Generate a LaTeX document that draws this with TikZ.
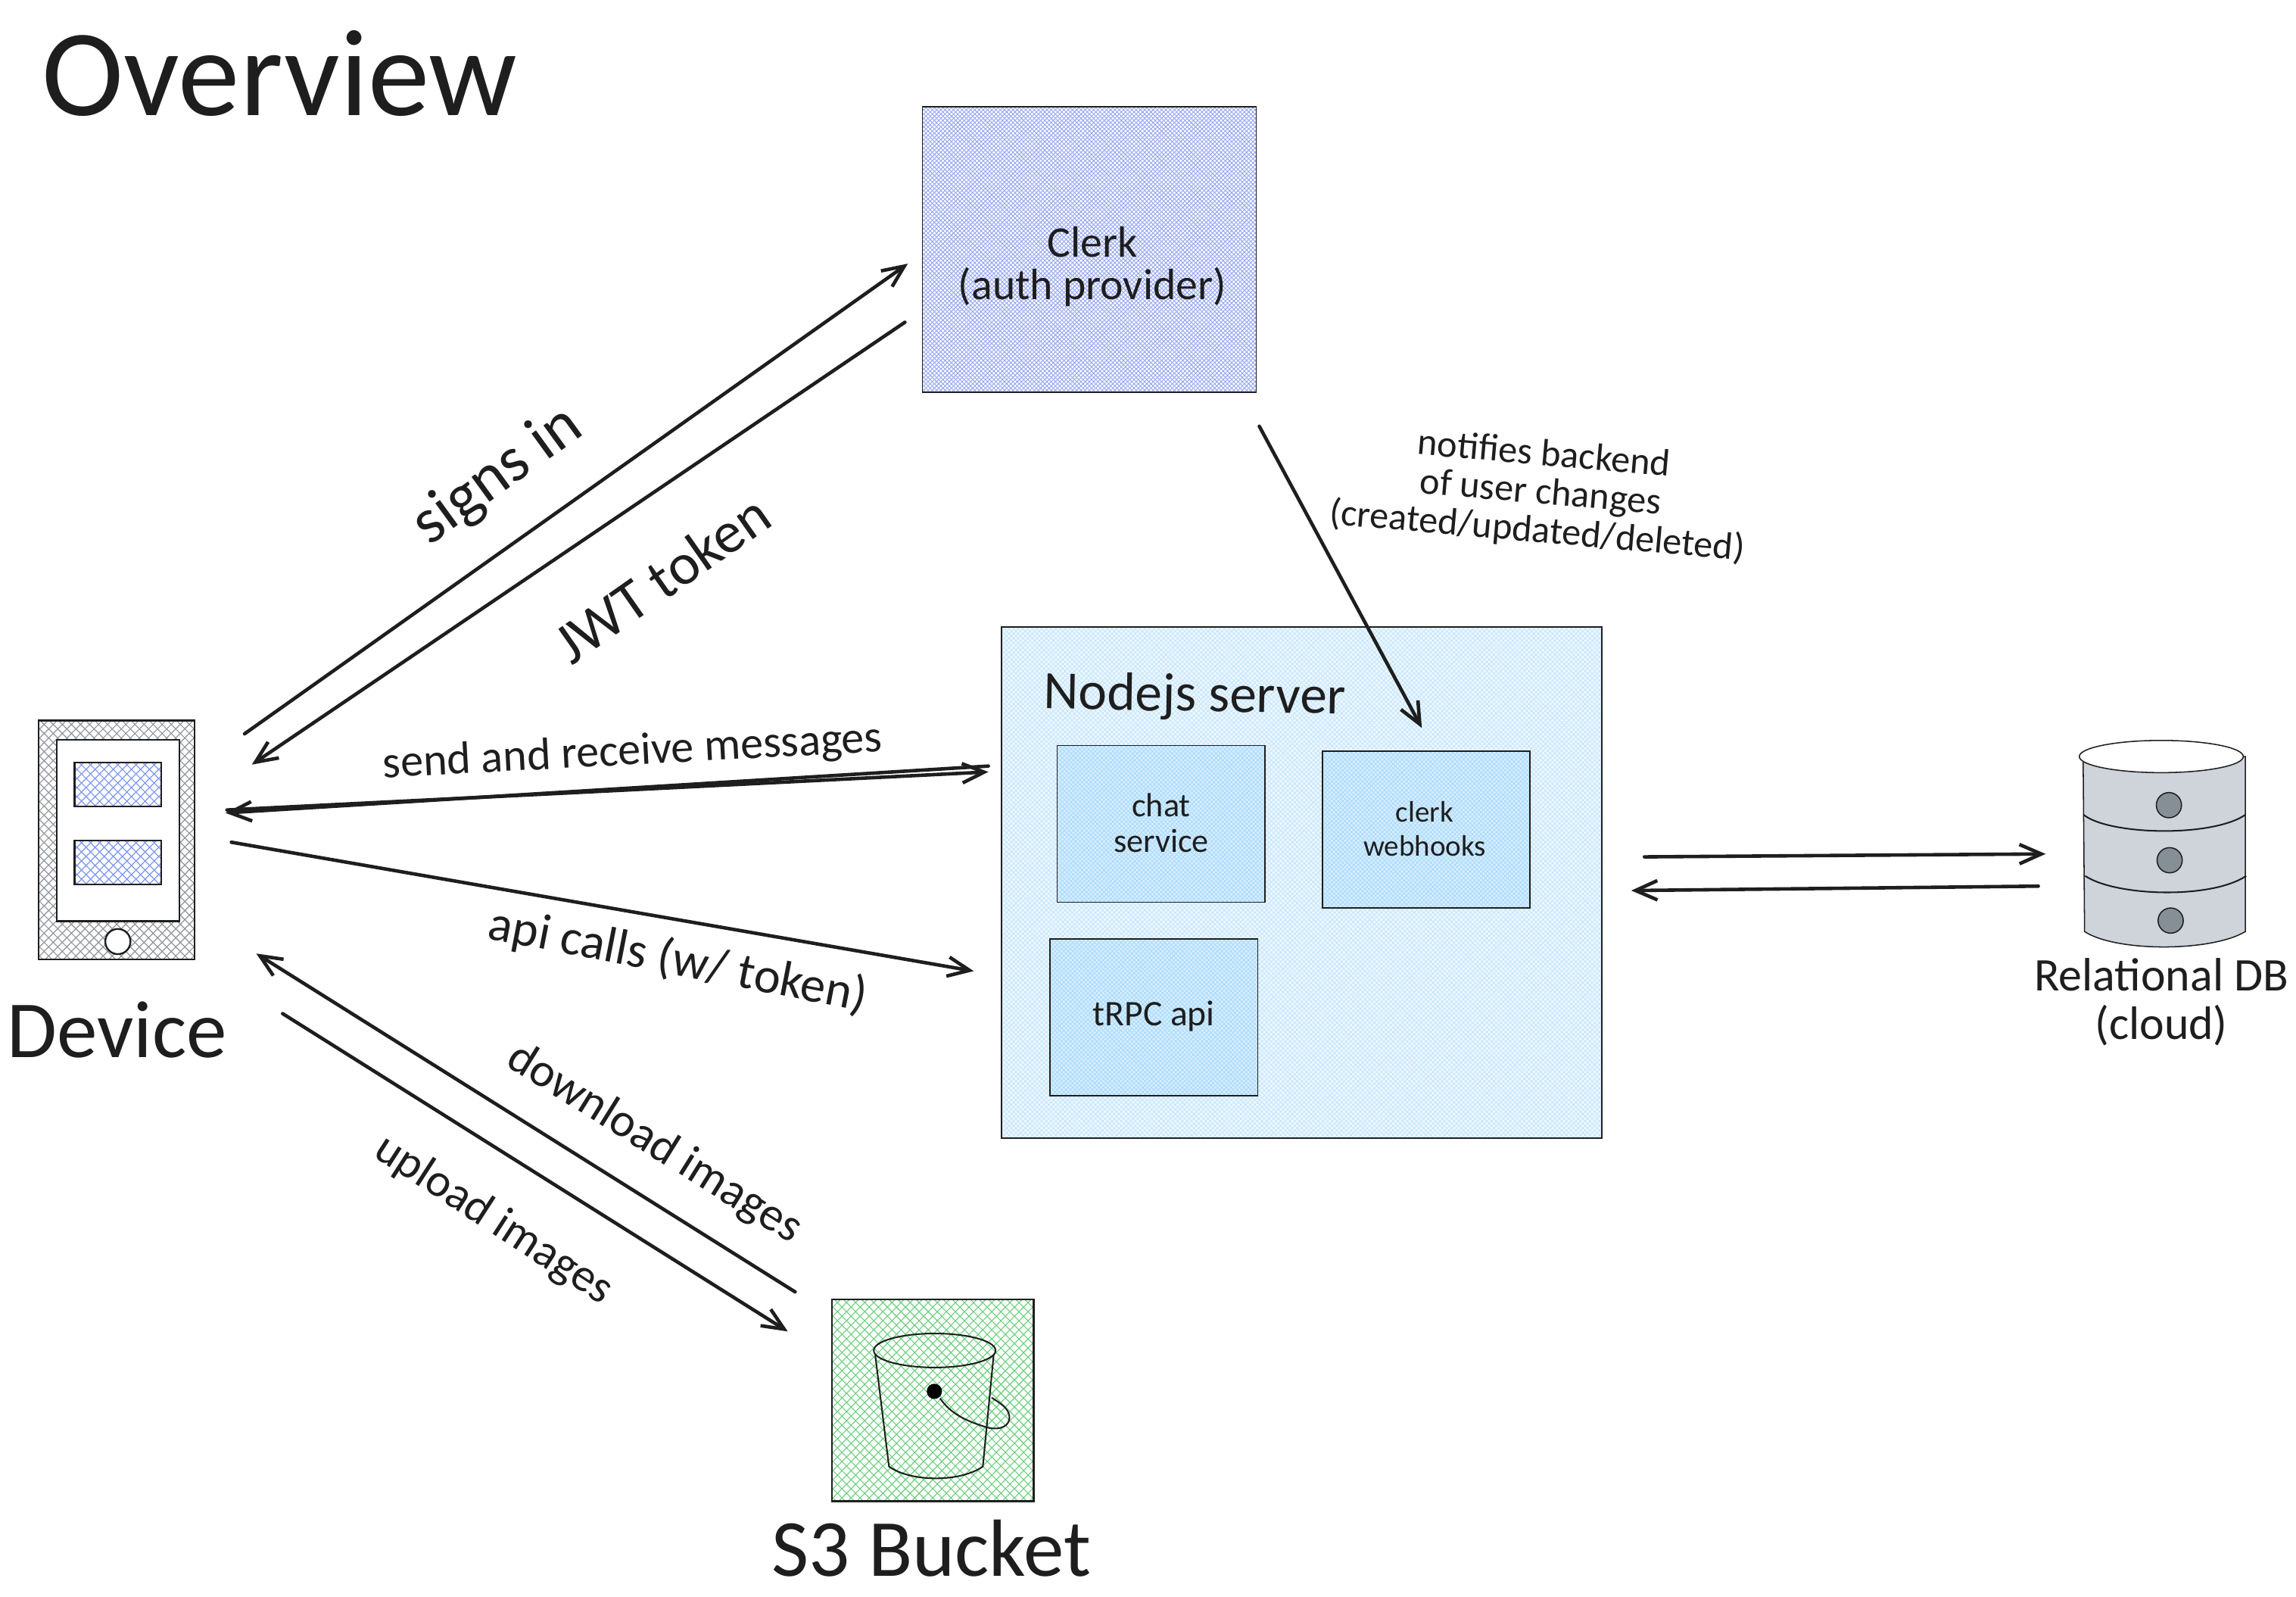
\documentclass[tikz,border=0pt]{standalone}
\usepackage{fontspec}
\setmainfont{Carlito}
\usetikzlibrary{arrows.meta,calc,shapes.geometric}
\definecolor{ink}{HTML}{1E1E1E}
\definecolor{devgray}{HTML}{8F969C}
\definecolor{devblue}{HTML}{7E97F2}
\definecolor{clerkblue}{HTML}{93A5F2}
\definecolor{srvline}{HTML}{A5D8FF}
\definecolor{srvfill}{HTML}{EDF7FF}
\definecolor{subfill}{HTML}{D6EEFF}
\definecolor{s3green}{HTML}{69CE7C}
\definecolor{dbfill}{HTML}{CED4DA}
\definecolor{dbdot}{HTML}{868E96}
\newcommand{\hatchbox}[9]{% x0,y0,x1,y1,color,spacing,lw,name,frame width
  \begin{scope}
    \clip (#1,#2) rectangle (#3,#4);
    \pgfmathsetmacro{\hspan}{(#3-#1)+(#4-#2)}
    \foreach \t in {0,#6,...,\hspan}{
      \draw[#5,line width=#7pt] ({#1+\t},#2) -- ++({-(#4-#2)},{#4-#2});
      \draw[#5,line width=#7pt] ({#3-\t},#2) -- ++({#4-#2},{#4-#2});
    }
  \end{scope}
  \node[boxframe,line width=#9pt,minimum width={(#3-#1)*0.56906pt},minimum height={(#4-#2)*0.56906pt},anchor=north west] (#8) at (#1,#2) {};
}
\newcommand{\fs}[2]{\fontsize{#1}{#2}\selectfont}
\tikzset{
  boxframe/.style={draw=ink,line width=0.5pt,inner sep=0pt,outer sep=0pt},
  link/.style={draw=ink,line width=1.35pt,line cap=round,-{Straight Barb[length=8.5pt,width=7.5pt,line width=1.35pt]}},
  lbl/.style={text=ink,inner sep=0pt,align=center},
  sketch/.style={draw=ink,line width=0.6pt},
}
\begin{document}
\begin{tikzpicture}[x=0.02cm,y=-0.02cm]
\useasboundingbox (0,0) rectangle (1568,1089.8);
\fill[white] (0,0) rectangle (1568,1089.8);

% Clerk
\hatchbox{630}{73}{858}{268}{clerkblue}{2.9}{0.27}{clerk}{0.5}
\node[lbl,font=\fs{17}{16.5}] (clerktext) at (746,182) {Clerk\\(auth provider)};

% Server
\fill[srvfill] (684,428) rectangle (1094,777);
\hatchbox{684}{428}{1094}{777}{srvline!70}{3.2}{0.22}{server}{0.5}
\fill[subfill] (722,509) rectangle (864,616);
\hatchbox{722}{509}{864}{616}{srvline}{3}{0.22}{chat}{0.5}
\fill[subfill] (903,513) rectangle (1045,620);
\hatchbox{903}{513}{1045}{620}{srvline}{3}{0.22}{webhooks}{0.5}
\fill[subfill] (717,641) rectangle (859,748);
\hatchbox{717}{641}{859}{748}{srvline}{3}{0.22}{trpc}{0.5}
\node[lbl,font=\fs{21}{23},rotate=-1] (servertext) at (816,476) {Nodejs server};
\node[lbl,font=\fs{13}{13.7}] (chattext) at (793,562) {chat\\service};
\node[lbl,font=\fs{11.5}{13.2}] (webhookstext) at (973,566) {clerk\\webhooks};
\node[lbl,font=\fs{14}{16}] (trpctext) at (788,694) {tRPC api};

% Device
\hatchbox{26.5}{492}{133}{655}{devgray}{6.2}{0.35}{device}{0.7}
\node[boxframe,line width=0.7pt,fill=white,minimum width={83.6*0.56906pt},minimum height={124*0.56906pt},anchor=north west] (screen) at (38.8,505) {};
\hatchbox{51}{520.7}{110}{550.6}{devblue}{6.2}{0.35}{msgone}{0.7}
\hatchbox{51}{573.9}{110}{603.8}{devblue}{6.2}{0.35}{msgtwo}{0.7}
\node[circle,draw=ink,fill=white,line width=0.7pt,minimum size={17.2*0.56906pt},inner sep=0pt] (homebtn) at (80.5,642.8) {};

% S3
\hatchbox{568}{887}{706}{1025}{s3green}{6.2}{0.32}{s3}{0.7}
\node[ellipse,draw=ink,line width=0.6pt,minimum width={83.2*0.56906pt},minimum height={23.2*0.56906pt},inner sep=0pt] (rim) at (638.3,922) {};
\draw[sketch] (597.7,925) -- (607.1,1001.2) .. controls (622,1012) and (656,1012) .. (671.2,1001.2) -- (678.6,925);
\draw[sketch] (642,954.7) .. controls (650,966) and (660,970) .. (673.8,974.5)
  .. controls (684,977) and (690,973) .. (689.3,966.8) .. controls (688.5,961) and (683,958) .. (677.2,954.2);
\fill[black] (638.1,949.9) circle (5.2);

% Database
\filldraw[fill=dbfill,draw=ink,line width=0.45pt] (1422.6,516.5) -- (1423.6,636)
  .. controls (1445,650) and (1510,650) .. (1533.4,636) -- (1533.4,516.5) -- cycle;
\node[ellipse,draw=ink,fill=white,line width=0.45pt,minimum width={112*0.56906pt},minimum height={22*0.56906pt},inner sep=0pt] (db) at (1476,516.5) {};
\draw[sketch] (1423,556.3) .. controls (1440,570) and (1510,572) .. (1533.4,556.3);
\draw[sketch] (1424,598) .. controls (1445,612) and (1510,614) .. (1534,598);
\filldraw[fill=dbdot,draw=ink,line width=0.45pt] (1481.2,549.7) circle (8.6);
\filldraw[fill=dbdot,draw=ink,line width=0.45pt] (1481.7,587.3) circle (8.6);
\filldraw[fill=dbdot,draw=ink,line width=0.45pt] (1482.4,628.5) circle (8.6);
\node[lbl,font=\fs{18.2}{18.8}] (dbtext) at (1476,684) {Relational DB\\(cloud)};

% Titles
\node[lbl,font=\fs{48}{50}] (title) at (191,50) {Overview};
\node[lbl,font=\fs{31.5}{33}] (devicetext) at (80,703) {Device};
\node[lbl,font=\fs{31.5}{33}] (s3text) at (636,1057) {S3 Bucket};

% Connector ends
\coordinate (signA) at (167,501);  \coordinate (signB) at (620,180);
\coordinate (jwtA) at (618,220);   \coordinate (jwtB) at (172,522);
\coordinate (msgA) at (675,523);   \coordinate (msgB) at (154,555);
\coordinate (msgC) at (155,553);   \coordinate (msgD) at (675,527);
\coordinate (apiA) at (158,575);   \coordinate (apiB) at (665,663);
\coordinate (dlA) at (543,882);    \coordinate (dlB) at (175,651);
\coordinate (ulA) at (193,692);    \coordinate (ulB) at (538,909);
\coordinate (noteA) at (860,291);  \coordinate (noteB) at (971,497);
\coordinate (dbA) at (1123,585);   \coordinate (dbB) at (1397,583);
\coordinate (dbC) at (1392,605);   \coordinate (dbD) at (1114,608);

\draw[link] (signA) -- (signB);
\draw[link] (jwtA) -- (jwtB);
\draw[link] (msgA) -- (msgB);
\draw[link] (msgC) -- (msgD);
\draw[link] (apiA) -- (apiB);
\draw[link] (dlA) -- (dlB);
\draw[link] (ulA) -- (ulB);
\draw[link] (noteA) -- (noteB);
\draw[link] (dbA) -- (dbB);
\draw[link] (dbC) -- (dbD);

% Connector labels
\node[lbl,font=\fs{25}{27},rotate=36] (lsign) at (340,325) {signs in};
\node[lbl,font=\fs{22.8}{25},rotate=35] (ljwt) at (452,395) {JWT token};
\node[lbl,font=\fs{17.7}{19},rotate=3] (lmsg) at (432,514) {send and receive messages};
\node[lbl,font=\fs{19.5}{21},rotate=-11] (lapi) at (463,656) {api calls (w/ token)};
\node[lbl,font=\fs{18.4}{20},rotate=-32] (ldl) at (447,781) {download images};
\node[lbl,font=\fs{18.1}{20},rotate=-33] (lul) at (337,833) {upload images};
\node[lbl,font=\fs{14.8}{15},rotate=-5] (lnote) at (1052,337) {notifies backend\\of user changes\\(created/updated/deleted)};
\end{tikzpicture}
\end{document}
